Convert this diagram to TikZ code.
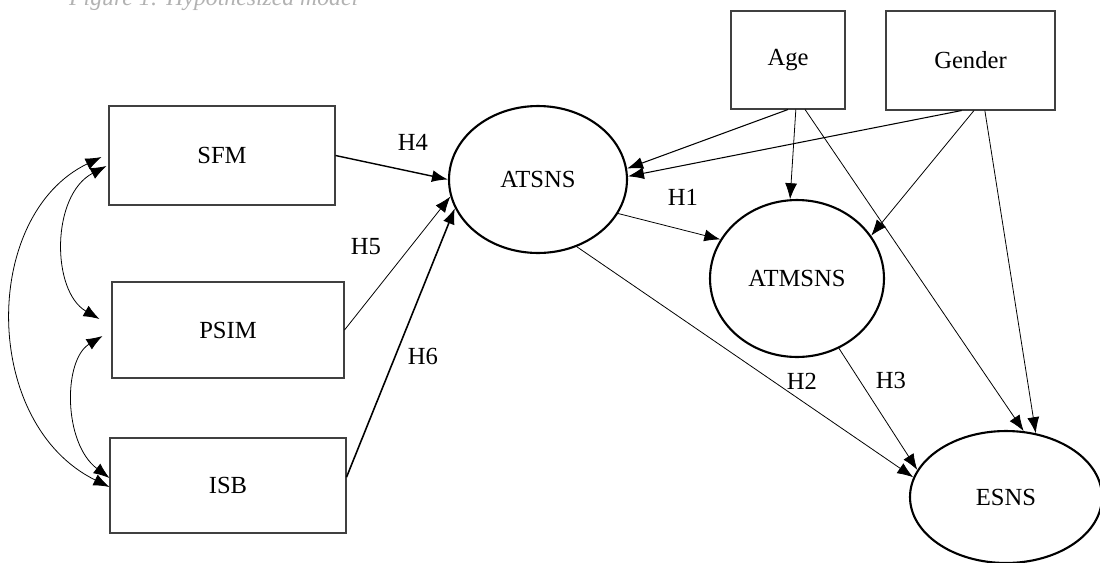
\documentclass[tikz,border=0pt]{standalone}
\usepackage{fontspec}
\setmainfont{Liberation Serif}
\usetikzlibrary{arrows.meta, shapes.geometric, calc}
\tikzstyle{block} = [draw=black!75, line width=0.6pt, rectangle, inner sep=0pt, font=\fontsize{14}{16}\selectfont]
\tikzstyle{latent} = [draw, line width=1.2pt, ellipse, inner sep=0pt, font=\fontsize{14}{16}\selectfont]
\tikzstyle{hyp} = [font=\fontsize{14}{16}\selectfont]
\tikzstyle{effect} = [-{Latex[length=3.2mm, width=2.4mm]}, line width=0.45pt]
\tikzstyle{cov} = [{Latex[length=3.2mm, width=2.4mm]}-{Latex[length=3.2mm, width=2.4mm]}, line width=0.45pt]

\begin{document}
\begin{tikzpicture}[x=0.02cm, y=-0.02cm]
    \useasboundingbox (0,0) rectangle (1100,562);
    \node (title) [anchor=base west, text=black!30, font=\itshape\fontsize{13.5}{15}\selectfont] at (63,5) {Figure 1: Hypothesized model};

    % Observed variables.
    \node (sfm) [block, minimum width=4.52cm, minimum height=1.98cm] at (222,155.5) {SFM};
    \node (psim) [block, minimum width=4.64cm, minimum height=1.92cm] at (228,330) {PSIM};
    \node (isb) [block, minimum width=4.72cm, minimum height=1.9cm] at (228,485.5) {ISB};
    \node (age) [block, minimum width=2.28cm, minimum height=1.96cm] at (788,60) {Age};
    \node (gender) [block, minimum width=3.38cm, minimum height=1.98cm] at (970.5,60.5) {Gender};

    % Latent variables.
    \node (atsns) [latent, minimum width=3.56cm, minimum height=2.94cm] at (538,179.5) {ATSNS};
    \node (atmsns) [latent, minimum width=3.48cm, minimum height=3.14cm] at (797,278.5) {ATMSNS};
    \node (esns) [latent, minimum width=3.84cm, minimum height=2.64cm] at (1006,497) {ESNS};

    % Hypotheses.
    \node (h1) [hyp] at (683,197) {H1};
    \node (h2) [hyp] at (802,381) {H2};
    \node (h3) [hyp] at (891,380) {H3};
    \node (h4) [hyp] at (413,142) {H4};
    \node (h5) [hyp] at (366,247) {H5};
    \node (h6) [hyp] at (423,356) {H6};

    % Arrows.
    \draw [effect, line width=0.8pt] (sfm.east) -- (atsns.180);
    \draw [effect] (psim.east) -- (atsns.191);
    \draw [effect, line width=0.9pt] (isb.4) -- (atsns.199);
    \draw [effect, line width=0.6pt] (age.south) -- (atsns.7);
    \draw [effect, line width=0.6pt] (gender.-100) -- (atsns.2);
    \draw [effect] (age.-81) -- (atmsns.95);
    \draw [effect] (gender.-86) -- (atmsns.30);
    \draw [effect] (age.-71) -- (esns.75);
    \draw [effect] (gender.-74) -- (esns.65);
    \draw [effect] (atsns.-23) -- (atmsns.153);
    \draw [effect] (atsns.-60) -- (esns.168);
    \draw [effect] (atmsns.-59) -- (esns.163);

    % Covariances.
    \draw [cov] ($(sfm.west)+(-7,1.5)$) .. controls (-19,215) and (-19,424) .. ($(isb.west)+(0,1.5)$);
    \draw [cov] ($(sfm.west)+(-2,10.5)$) .. controls (51,195) and (51,291) .. ($(psim.west)+(-12,-11)$);
    \draw [cov] ($(psim.west)+(-9,6)$) .. controls (63,360) and (63,443) .. ($(isb.west)+(0,-7.5)$);
\end{tikzpicture}
\end{document}
